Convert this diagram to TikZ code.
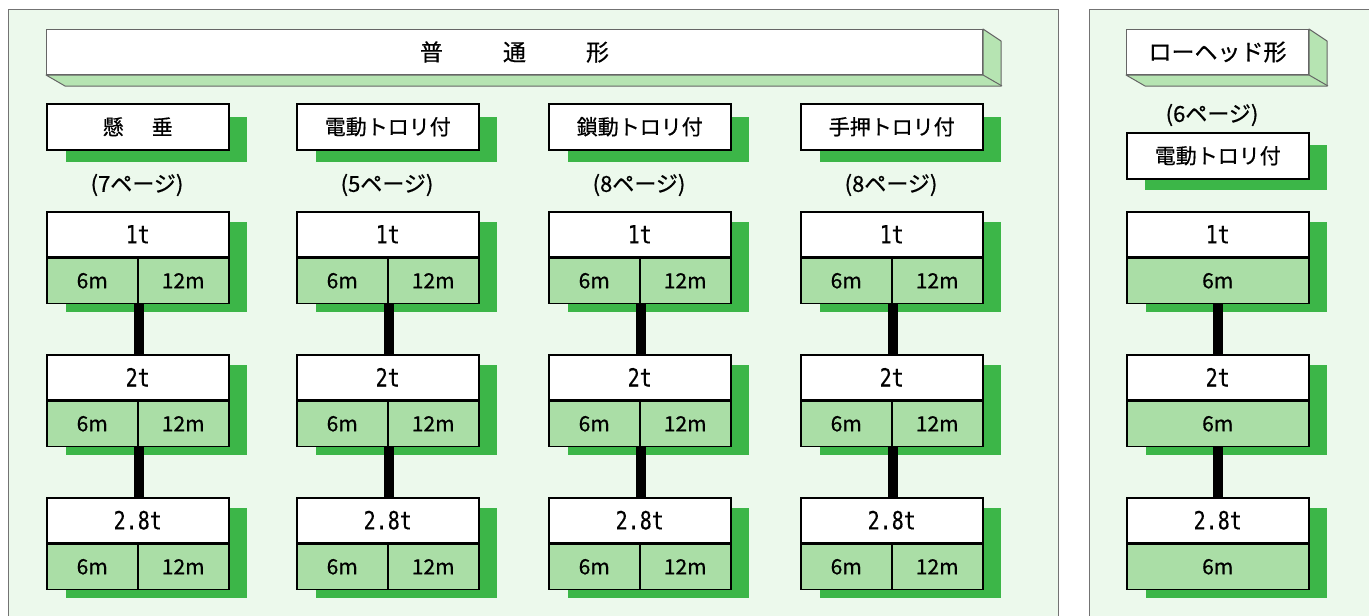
\documentclass[tikz,border=0pt]{standalone}
\usepackage{fontspec}
\setmainfont{Noto Sans CJK JP}[FakeBold=0.6]
\newfontfamily\monof{DejaVu Sans Mono}[FakeBold=0.4]
\usetikzlibrary{calc}
\definecolor{bg}{RGB}{236,249,236}
\definecolor{shade}{RGB}{60,182,72}
\definecolor{cellg}{RGB}{170,222,166}
\definecolor{depthg}{RGB}{182,228,178}
\tikzset{
 frame/.style={draw=black!55, line width=1pt},
 banner/.style={draw=black!60, line width=1pt, fill=white, anchor=north west, minimum height=45pt, inner sep=0pt, font=\fontsize{23}{23}\selectfont},
 depthface/.style={fill=depthg, draw=black!60, line width=1pt, line join=round},
 subbox/.style={draw=black, line width=1.5pt, fill=white, anchor=north west, minimum width=182pt, minimum height=46pt, inner sep=0pt, font=\fontsize{21}{21}\selectfont},
 pglab/.style={inner sep=0pt, font=\fontsize{22}{22}\selectfont},
 tbox/.style={draw=black, line width=1.5pt, fill=white, anchor=north west, minimum width=182pt, minimum height=45pt, inner sep=0pt},
 mbox/.style={draw=black, line width=1.5pt, fill=cellg, minimum height=45pt, inner sep=0pt, font=\fontsize{21}{21}\selectfont},
 bar/.style={line width=10pt, draw=black},
 shadowfill/.style={fill=shade},
}
\newcommand{\tlab}[1]{\scalebox{0.8}[1]{\monof\fontsize{25}{25}\selectfont #1}}
\begin{document}
\begin{tikzpicture}[x=1pt,y=-1pt]
\useasboundingbox (0,0) rectangle (1369,616);
\fill[white] (0,0) rectangle (1369,616);
% panels
\fill[bg] (8,9) rectangle (1058,616);
\draw[frame] (8,616) -- (8,9) -- (1058,9) -- (1058,616);
\fill[bg] (1089,9) rectangle (1369,616);
\draw[frame] (1089,616) -- (1089,9) -- (1369,9);

% main banner
\node[banner, minimum width=936pt] (ban) at (46,29) {普\hspace{60pt}通\hspace{60pt}形};
\filldraw[depthface] (ban.south west) -- ++(19,11) -- ++(936,0) -- ++(0,-45) -- (ban.north east) -- (ban.south east) -- cycle;
\draw[black!60, line width=1pt] (ban.south east) -- ++(19,11);

% columns
\foreach \cx/\lab/\pg [count=\i] in {46/懸\hspace{28pt}垂/7, 296/電動トロリ付/5, 548/鎖動トロリ付/8, 800/手押トロリ付/8} {
  \fill[shadowfill] (\cx+20,117) rectangle (\cx+201,162);
  \node[subbox] (s\i) at (\cx,103) {\lab};
  \node[pglab] (p\i) at (\cx+91,185) {(\pg ページ)};
  \foreach \ry/\tl [count=\j] in {211/1t, 354/2t, 497/2.8t} {
    \fill[shadowfill] (\cx+20,\ry+11) rectangle (\cx+201,\ry+101);
    \node[tbox] (t\i\j) at (\cx,\ry) {\tlab{\tl}};
    \node[mbox, minimum width=91pt, anchor=north west] (a\i\j) at (t\i\j.south west) {6m};
    \node[mbox, minimum width=91pt, anchor=north east] (b\i\j) at (t\i\j.south east) {12m};
  }
  \draw[bar] (a\i1.south east) -- (a\i1.south east |- t\i2.north);
  \draw[bar] (a\i2.south east) -- (a\i2.south east |- t\i3.north);
}

% low-head panel
\node[banner, minimum width=182pt] (ban2) at (1126,29) {ローヘッド形};
\filldraw[depthface] (ban2.south west) -- ++(19,11) -- ++(182,0) -- ++(0,-45) -- (ban2.north east) -- (ban2.south east) -- cycle;
\draw[black!60, line width=1pt] (ban2.south east) -- ++(19,11);
\node[pglab] (p5) at (1212,115) {(6ページ)};
\fill[shadowfill] (1145,145) rectangle (1327,190);
\node[subbox] (s5) at (1126,132) {電動トロリ付};
\foreach \ry/\tl [count=\j] in {211/1t, 354/2t, 497/2.8t} {
  \fill[shadowfill] (1146,\ry+11) rectangle (1327,\ry+101);
  \node[tbox] (t5\j) at (1126,\ry) {\tlab{\tl}};
  \node[mbox, minimum width=182pt, anchor=north west] (a5\j) at (t5\j.south west) {6m};
}
\draw[bar] (a51.south) -- (a51.south |- t52.north);
\draw[bar] (a52.south) -- (a52.south |- t53.north);
\end{tikzpicture}
\end{document}
